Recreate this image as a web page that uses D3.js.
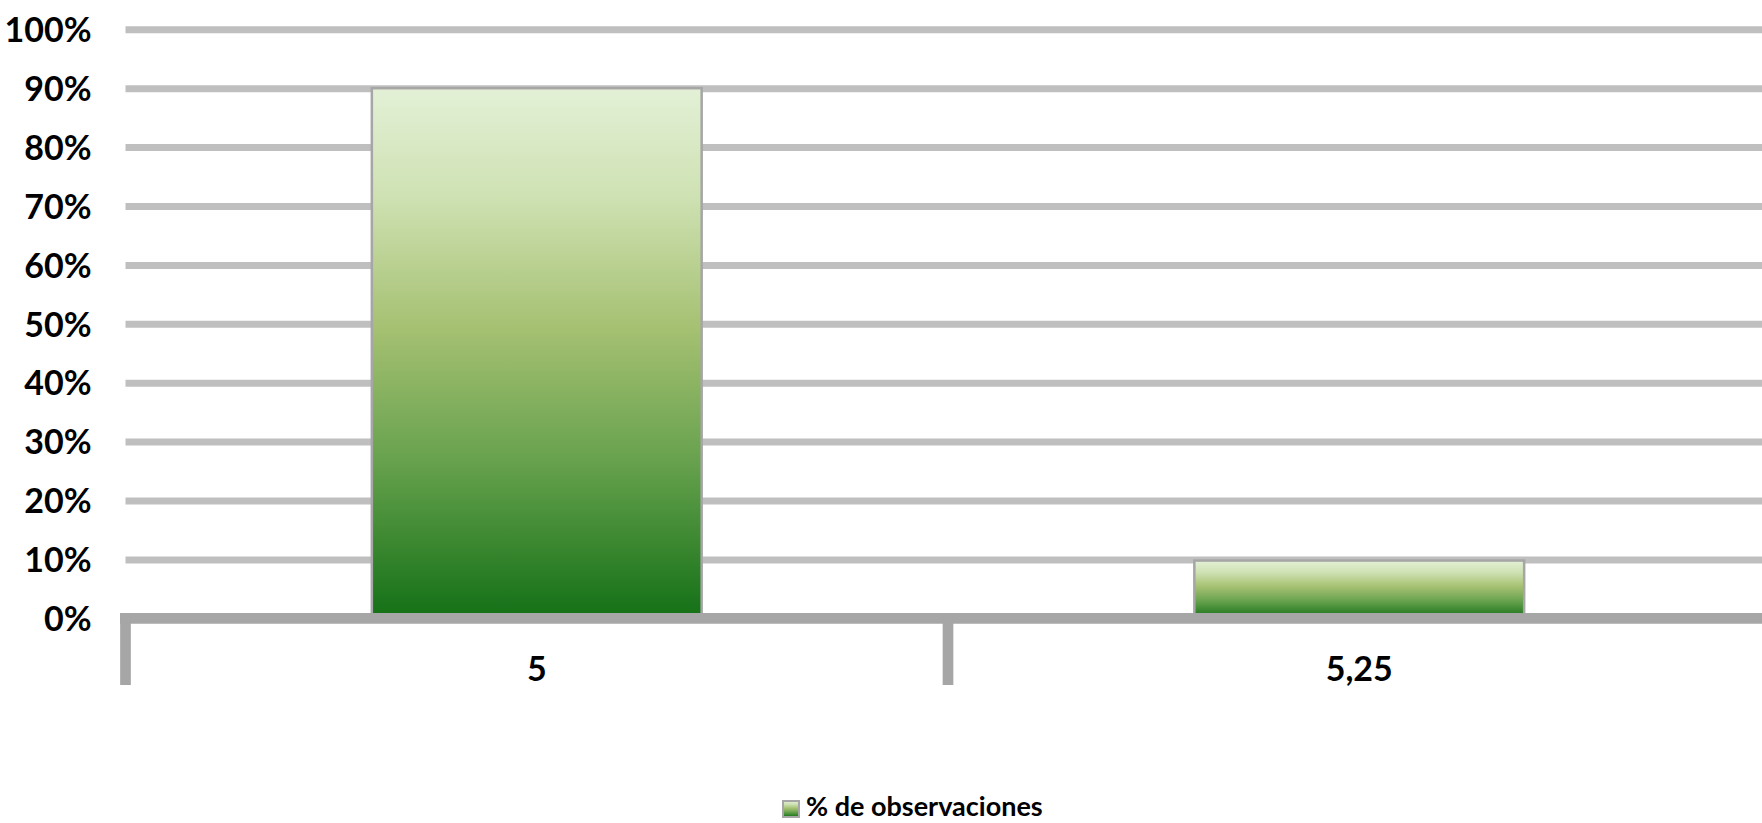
<!DOCTYPE html>
<html>
<head>
<meta charset="utf-8">
<script src="https://cdn.jsdelivr.net/npm/d3@7"></script>
<style>
  html, body { margin: 0; padding: 0; background: #ffffff; }
  svg { display: block; }
</style>
</head>
<body>
<svg id="chart" width="1762" height="823"></svg>
<script>
// ---- data ----
const categories = ["5", "5,25"];
const values = [0.90, 0.098];
const seriesName = "% de observaciones";
const yTicks = [0, 0.1, 0.2, 0.3, 0.4, 0.5, 0.6, 0.7, 0.8, 0.9, 1.0];

// ---- layout ----
const W = 1762, H = 823;
const plotLeft = 125.5, plotRight = 1770.5, plotTop = 29.3, plotBottom = 618.3;
const FONT = "Lato, 'Open Sans', 'Liberation Sans', sans-serif";

const svg = d3.select("#chart");

const defs = svg.append("defs");
const grad = defs.append("linearGradient")
  .attr("id", "barGrad").attr("x1", 0).attr("y1", 0).attr("x2", 0).attr("y2", 1);
[[0, "#e3f0d6"], [0.2, "#cfe2b4"], [0.45, "#a6c172"], [0.7, "#68a24e"], [1, "#137016"]]
  .forEach(([o, c]) => grad.append("stop").attr("offset", o).attr("stop-color", c));

const x = d3.scaleBand().domain(categories).range([plotLeft, plotRight]).paddingInner(0).paddingOuter(0);
const y = d3.scaleLinear().domain([0, 1]).range([plotBottom, plotTop]);

// gridlines + y labels
const yAxis = d3.axisLeft(y)
  .tickValues(yTicks)
  .tickFormat(d3.format(".0%"))
  .tickSizeInner(-(W - plotLeft + 20))
  .tickSizeOuter(0)
  .tickPadding(34);

const gy = svg.append("g").attr("transform", `translate(${plotLeft},0)`).call(yAxis);
gy.select(".domain").remove();
gy.selectAll(".tick line")
  .attr("stroke", d => d === 0 ? "none" : "#bfbfbf")
  .attr("stroke-width", 7);
gy.selectAll(".tick text")
  .attr("fill", "#000")
  .style("font-family", FONT)
  .style("font-weight", "bold")
  .style("font-size", "34px")
  .attr("dy", "0.36em");

// bars
const barW = x.bandwidth() * 0.401;
svg.append("g").selectAll("rect")
  .data(categories.map((c, i) => ({ c, v: values[i] })))
  .join("rect")
  .attr("x", d => x(d.c) + (x.bandwidth() - barW) / 2)
  .attr("y", d => y(d.v))
  .attr("width", barW)
  .attr("height", d => y(0) - y(d.v))
  .attr("fill", "url(#barGrad)")
  .attr("stroke", "#a6a6a6")
  .attr("stroke-width", 2.5);

// x axis line and boundary ticks
const axisY = y(0);
svg.append("line")
  .attr("x1", plotLeft - 5.5).attr("x2", W + 10)
  .attr("y1", axisY).attr("y2", axisY)
  .attr("stroke", "#a6a6a6").attr("stroke-width", 10.7);

const boundaries = categories.map(c => x(c)).concat([x.range()[1]]);
svg.append("g").selectAll("line.bt")
  .data(boundaries)
  .join("line")
  .attr("class", "bt")
  .attr("x1", d => d).attr("x2", d => d)
  .attr("y1", axisY - 5.3).attr("y2", 685)
  .attr("stroke", "#a6a6a6").attr("stroke-width", 10.7);

// category labels
const xAxis = d3.axisBottom(x).tickSize(0).tickPadding(0);
const gx = svg.append("g").attr("transform", `translate(0,${axisY})`).call(xAxis);
gx.select(".domain").remove();
gx.selectAll(".tick text")
  .attr("fill", "#000")
  .attr("dy", 0)
  .attr("y", 63)
  .style("font-family", FONT)
  .style("font-weight", "bold")
  .style("font-size", "34px");

// legend
const leg = svg.append("g");
leg.append("rect")
  .attr("x", 783).attr("y", 801).attr("width", 16).attr("height", 16)
  .attr("fill", "url(#barGrad)")
  .attr("stroke", "#a6a6a6").attr("stroke-width", 2);
leg.append("text")
  .attr("x", 806).attr("y", 816)
  .attr("fill", "#000")
  .style("font-family", FONT)
  .style("font-weight", "bold")
  .style("font-size", "27px")
  .text(seriesName);
</script>
</body>
</html>
